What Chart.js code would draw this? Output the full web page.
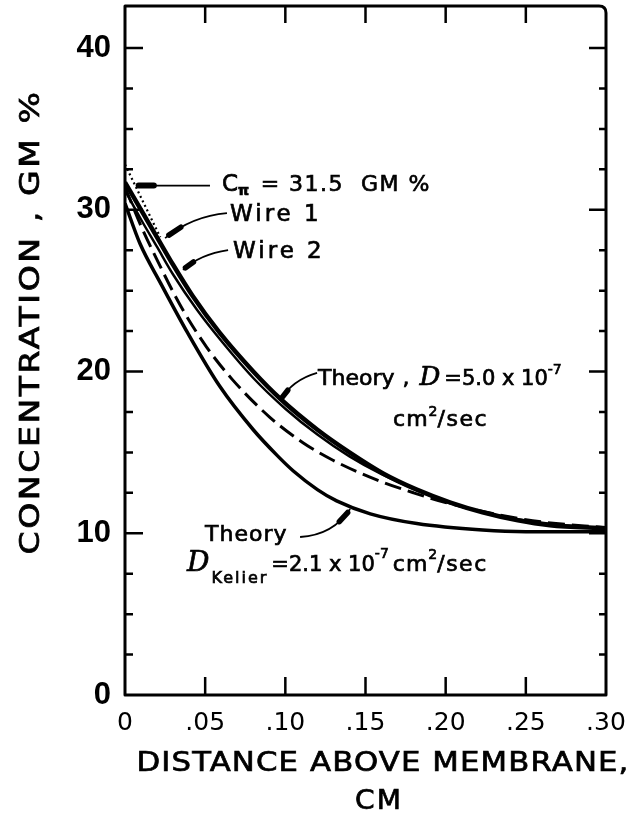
<!DOCTYPE html>
<html>
<head>
<meta charset="utf-8">
<script src="https://cdn.jsdelivr.net/npm/chart.js@4.4.0/dist/chart.umd.min.js"></script>
<style>
  html, body { margin: 0; padding: 0; background: #fff; }
  canvas { display: block; }
</style>
</head>
<body>
<canvas id="chart" width="632" height="815"></canvas>
<script>
// concentration profiles above the membrane: distance in cm, concentration in gm %

// wire 1 (heavy solid) and its dotted extrapolation to the membrane
const wire1X = [0, 0.01, 0.02, 0.03, 0.042, 0.059, 0.08, 0.097, 0.12, 0.14, 0.161, 0.182, 0.203, 0.223, 0.245, 0.265, 0.30];
const wire1Y = [31.7, 30.0, 28.3, 26.6, 24.7, 22.4, 20.0, 18.3, 16.4, 15.0, 13.7, 12.7, 11.9, 11.3, 10.8, 10.5, 10.3];
const extrapX = [0, 0.022];
const extrapY = [32.8, 28.3];

// wire 2 (solid, just under wire 1)
const wire2X = [0, 0.01, 0.02, 0.03, 0.045, 0.06, 0.08, 0.10, 0.12, 0.14, 0.16, 0.18, 0.20, 0.23, 0.26, 0.30];
const wire2Y = [31.2, 29.4, 27.7, 26.0, 23.8, 21.9, 19.6, 17.7, 16.1, 14.75, 13.65, 12.75, 11.95, 11.15, 10.65, 10.3];

// theory, D = 5.0 x 10^-7 cm2/sec (dashed)
const theory5X = [0, 0.01, 0.02, 0.035, 0.051, 0.067, 0.09, 0.111, 0.13, 0.157, 0.18, 0.20, 0.23, 0.26, 0.30];
const theory5Y = [31.4, 29.0, 26.9, 24.0, 21.5, 19.5, 17.2, 15.6, 14.5, 13.3, 12.5, 11.9, 11.2, 10.7, 10.35];

// theory, D Keller = 2.1 x 10^-7 cm2/sec
const kellerX = [0, 0.0094, 0.022, 0.039, 0.059, 0.08, 0.095, 0.105, 0.12, 0.132, 0.153, 0.182, 0.223, 0.25, 0.286, 0.30];
const kellerY = [30.4, 27.9, 25.5, 22.4, 19.1, 16.4, 14.8, 13.85, 12.7, 12.0, 11.2, 10.6, 10.2, 10.1, 10.1, 10.1];

const cPi = 31.5;

const xMin = 0, xMax = 0.30, xStep = 0.05;
const yMin = 0, yMax = 42.6, yStep = 2.5, yLabelEvery = 10, yTop = 40;

const SANS = '"DejaVu Sans"';
const F = (px, style) => (style ? style + ' ' : '') + px + 'px ' + SANS;
const SCRIPT_D = px => 'italic ' + px + 'px "DejaVu Serif"';

function pts(xs, ys) {
  return xs.map((v, i) => ({ x: v, y: ys[i] }));
}

// fill plus a thin stroke, to get the heavier pen weight of the lettering
function ink(ctx, text, x, y) {
  ctx.fillText(text, x, y);
  ctx.lineWidth = 0.7;
  ctx.strokeText(text, x, y);
}

// centred text stretched horizontally to a given width
function wideText(ctx, text, cx, cy, width, spacing) {
  ctx.letterSpacing = spacing + 'px';
  const w = ctx.measureText(text).width;
  ctx.save();
  ctx.translate(cx, cy);
  ctx.scale(width / w, 1);
  ctx.textAlign = 'center';
  ctx.textBaseline = 'middle';
  ink(ctx, text, 0, 0);
  ctx.restore();
  ctx.letterSpacing = '0px';
}

// runs of text on one baseline: sub/superscripts via dy
function drawRuns(ctx, x0, base, runs) {
  let cx = x0;
  runs.forEach(r => {
    ctx.font = r.font;
    ctx.letterSpacing = (r.ls || 0) + 'px';
    cx += r.dx || 0;
    ink(ctx, r.t, cx, base + (r.dy || 0));
    cx += ctx.measureText(r.t).width;
  });
  ctx.letterSpacing = '0px';
}

// leader line: quadratic curve with a heavy blob near the curve end
function leader(ctx, p0, pc, p1) {
  ctx.lineWidth = 1.8;
  ctx.beginPath();
  ctx.moveTo(p0[0], p0[1]);
  ctx.quadraticCurveTo(pc[0], pc[1], p1[0], p1[1]);
  ctx.stroke();
  const q = t => [
    (1 - t) * (1 - t) * p0[0] + 2 * (1 - t) * t * pc[0] + t * t * p1[0],
    (1 - t) * (1 - t) * p0[1] + 2 * (1 - t) * t * pc[1] + t * t * p1[1]
  ];
  const a = q(0.72), b = q(0.93);
  ctx.lineWidth = 5.5;
  ctx.lineCap = 'round';
  ctx.beginPath();
  ctx.moveTo(a[0], a[1]);
  ctx.lineTo(b[0], b[1]);
  ctx.stroke();
  ctx.lineCap = 'butt';
}

const framePlugin = {
  id: 'frame',
  afterDatasetsDraw(chart) {
    const { ctx, chartArea: a, scales: { x, y } } = chart;
    ctx.save();
    ctx.strokeStyle = '#000';
    ctx.lineWidth = 3;
    ctx.lineJoin = 'round';
    ctx.beginPath();
    ctx.moveTo(a.left, a.bottom);
    ctx.lineTo(a.left, a.top);
    ctx.lineTo(a.right - 7, a.top);
    ctx.quadraticCurveTo(a.right, a.top, a.right, a.top + 7);
    ctx.lineTo(a.right, a.bottom);
    ctx.closePath();
    ctx.stroke();

    // inward tick marks on all four sides
    ctx.lineWidth = 2.5;
    ctx.beginPath();
    y.ticks.forEach(t => {
      if (t.value <= yMin) return;
      const py = y.getPixelForValue(t.value);
      const major = t.value % yLabelEvery === 0;
      ctx.moveTo(a.left, py); ctx.lineTo(a.left + (major ? 18 : 8), py);
      ctx.moveTo(a.right, py); ctx.lineTo(a.right - (major ? 17 : 7), py);
    });
    x.ticks.forEach(t => {
      if (t.value <= xMin + 1e-9 || t.value >= xMax - 1e-9) return;
      const px = x.getPixelForValue(t.value);
      ctx.moveTo(px, a.bottom); ctx.lineTo(px, a.bottom - 18);
      ctx.moveTo(px, a.top); ctx.lineTo(px, a.top + 17);
    });
    ctx.stroke();
    ctx.restore();
  },
  afterDraw(chart) {
    const { ctx, scales: { x, y } } = chart;
    const P = (vx, vy) => [x.getPixelForValue(vx), y.getPixelForValue(vy)];
    ctx.save();
    ctx.fillStyle = '#000';
    ctx.strokeStyle = '#000';
    ctx.textBaseline = 'alphabetic';
    ctx.textAlign = 'left';

    // axis titles
    ctx.font = F(26);
    ctx.save();
    ctx.translate(32, 322);
    ctx.rotate(-Math.PI / 2);
    wideText(ctx, 'CONCENTRATION , GM %', 0, 0, 465, 2);
    ctx.restore();

    ctx.font = F(27);
    wideText(ctx, 'DISTANCE ABOVE MEMBRANE,', 383, 764, 493, 1);
    wideText(ctx, 'CM', 379, 802, 48, 2);

    // C pi arrow at the membrane
    const p0 = P(0.053, cPi), p1 = P(0.018, cPi), tip = P(0.0085, cPi);
    ctx.lineWidth = 1.8;
    ctx.beginPath();
    ctx.moveTo(p0[0], p0[1]); ctx.lineTo(p1[0], p1[1]);
    ctx.stroke();
    ctx.lineWidth = 6;
    ctx.lineCap = 'round';
    ctx.beginPath();
    ctx.moveTo(tip[0], tip[1]); ctx.lineTo(p1[0], p1[1]);
    ctx.stroke();
    ctx.lineCap = 'butt';
    let t = P(0.0605, 31.16);
    drawRuns(ctx, t[0], t[1], [
      { t: 'C', font: F(23) },
      { t: 'π', font: F(14, 'bold'), dy: 4 },
      { t: ' = 31.5  GM %', font: F(22), dx: 3, ls: 1.5 }
    ]);

    // wire labels
    t = P(0.0655, 29.3);
    drawRuns(ctx, t[0], t[1], [{ t: 'Wire 1', font: F(23), ls: 3 }]);
    leader(ctx, P(0.0636, 29.8), P(0.0418, 29.61), P(0.025, 28.25));
    t = P(0.0674, 27.0);
    drawRuns(ctx, t[0], t[1], [{ t: 'Wire 2', font: F(23), ls: 3 }]);
    leader(ctx, P(0.0643, 27.51), P(0.0468, 27.26), P(0.0362, 26.28));

    // theory, D = 5.0
    t = P(0.1204, 19.17);
    drawRuns(ctx, t[0], t[1], [
      { t: 'Theory', font: F(22) },
      { t: ',', font: F(22), dx: 8 },
      { t: 'D', font: SCRIPT_D(26), dx: 10 },
      { t: '=5.0 x 10', font: F(21), dx: 4 },
      { t: '-7', font: F(14), dy: -11 }
    ]);
    t = P(0.1672, 16.63);
    drawRuns(ctx, t[0], t[1], [
      { t: 'cm', font: F(22), ls: 1 },
      { t: '2', font: F(14), dy: -10 },
      { t: '/sec', font: F(22), ls: 1.5 }
    ]);
    leader(ctx, P(0.1198, 19.91), P(0.1042, 19.47), P(0.0967, 18.2));

    // theory, D Keller
    t = P(0.0499, 9.52);
    drawRuns(ctx, t[0], t[1], [{ t: 'Theory', font: F(22), ls: 1 }]);
    t = P(0.0387, 7.67);
    drawRuns(ctx, t[0], t[1], [
      { t: 'D', font: SCRIPT_D(28) },
      { t: 'Kelier', font: F(16), dy: 12, dx: 2, ls: 2 },
      { t: '=2.1 x 10', font: F(21), dx: 3 },
      { t: '-7', font: F(14), dy: -13 },
      { t: 'cm', font: F(22), dx: 4, ls: 1 },
      { t: '2', font: F(14), dy: -12 },
      { t: '/sec', font: F(22), ls: 1.5 }
    ]);
    leader(ctx, P(0.1092, 9.77), P(0.1298, 9.89), P(0.1404, 11.5));

    ctx.restore();
  }
};

const lineBase = {
  borderColor: '#000',
  pointRadius: 0,
  fill: false,
  cubicInterpolationMode: 'monotone'
};

new Chart(document.getElementById('chart'), {
  type: 'line',
  data: {
    datasets: [
      Object.assign({ label: 'Theory, D Keller', data: pts(kellerX, kellerY), borderWidth: 3.5 }, lineBase),
      Object.assign({ label: 'Theory, D = 5.0', data: pts(theory5X, theory5Y), borderWidth: 3, borderDash: [17, 7] }, lineBase),
      Object.assign({ label: 'Wire 2', data: pts(wire2X, wire2Y), borderWidth: 2.5 }, lineBase),
      Object.assign({ label: 'Wire 1', data: pts(wire1X, wire1Y), borderWidth: 4.5 }, lineBase),
      Object.assign({ label: 'C pi extrapolation', data: pts(extrapX, extrapY), borderWidth: 2.2, borderDash: [2, 3] }, lineBase)
    ]
  },
  options: {
    responsive: false,
    devicePixelRatio: 1,
    animation: false,
    layout: { padding: { top: 6, right: 26, left: 0, bottom: 0 } },
    plugins: { legend: { display: false }, tooltip: { enabled: false } },
    scales: {
      x: {
        type: 'linear',
        min: xMin,
        max: xMax,
        grid: { display: false, drawTicks: false, tickLength: 0 },
        border: { display: false },
        ticks: {
          stepSize: xStep,
          autoSkip: false,
          maxRotation: 0,
          padding: 13,
          color: '#000',
          font: { family: 'DejaVu Sans', size: 25 },
          callback: v => {
            const n = Math.round(v * 100);
            return n === 0 ? '0' : '.' + String(n).padStart(2, '0');
          }
        },
        afterFit: s => {
          s.height = 120;
          s.paddingLeft = 0;
          s.paddingRight = 0;
        }
      },
      y: {
        min: yMin,
        max: yMax,
        grid: { display: false, drawTicks: false, tickLength: 0 },
        border: { display: false },
        ticks: {
          stepSize: yStep,
          includeBounds: false,
          autoSkip: false,
          padding: 14,
          color: '#000',
          font: { family: 'Liberation Sans', size: 31, weight: 'bold' },
          callback: v => (v % yLabelEvery === 0 ? String(v) : '')
        },
        afterBuildTicks: s => {
          s.ticks = s.ticks.filter(t => t.value <= yTop);
        },
        afterFit: s => {
          s.width = 125;
          s.paddingTop = 0;
          s.paddingBottom = 0;
        }
      }
    }
  },
  plugins: [framePlugin]
});
</script>
</body>
</html>
